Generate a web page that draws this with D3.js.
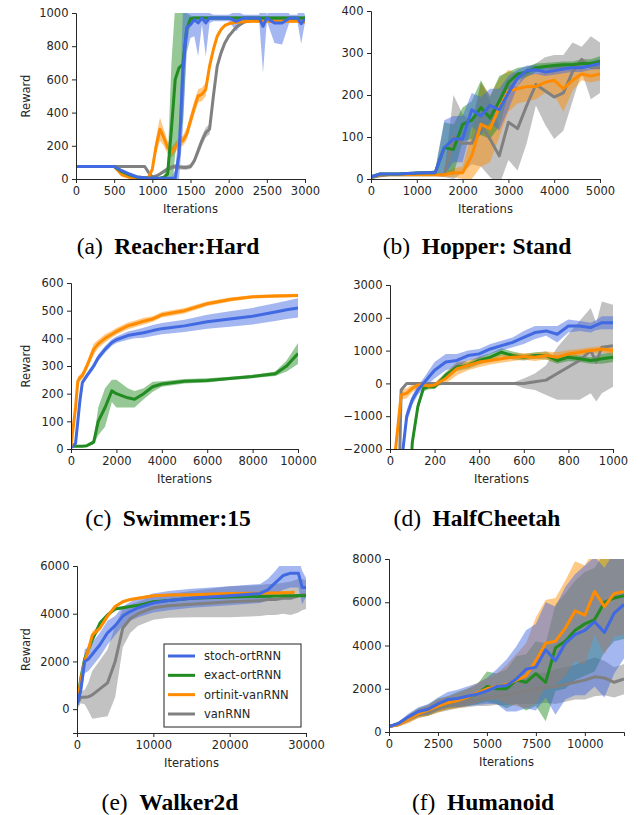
<!DOCTYPE html>
<html><head><meta charset="utf-8">
<script src="https://cdn.jsdelivr.net/npm/d3@7"></script>
<style>
body{margin:0;background:#fff}
text{font-family:"DejaVu Sans",sans-serif}
</style>
</head><body>
<svg id="c" width="640" height="815"></svg>
<script>
// ---------- DATA ----------
const seriesNames = ["stoch-ortRNN", "exact-ortRNN", "ortinit-vanRNN", "vanRNN"];

// (a) Reacher:Hard
const reacherX = [0,100,200,300,400,500,600,700,800,900, 950,1000,1050,1100,1150,1200,1250,1300,1350,1400, 1450,1500,1550,1600,1650,1700,1750,1800,1850,1900, 1950,2000,2100,2200,2300,2400,2450,2500,2600,2700, 2800,2900,2950,3000];
const reacherStoch = [75,75,75,75,75,75,50,30,12,8, 5,5,5,5,5,5,5,5,150,650, 910,930,960,940,970,940,970,970,970,970, 970,970,950,970,970,970,920,970,940,940, 970,970,935,965];
const reacherStochSd = [5,5,5,5,5,5,8,8,5,5, 5,5,5,5,5,5,5,50,150,350, 150,80,100,200,40,200,30,20,20,20, 20,20,60,20,20,20,280,20,120,130, 20,20,120,20];
const reacherExact = [75,75,75,75,75,75,45,25,12,8, 5,5,5,5,10,30,300,600,670,690, 900,965,970,970,970,970,970,970,970,970, 970,970,970,970,970,970,970,970,970,970, 970,970,970,970];
const reacherExactSd = [3,3,3,3,3,3,5,5,5,5, 5,5,5,5,10,50,400,450,400,350, 100,20,10,10,10,10,10,10,10,10, 10,10,10,10,10,10,10,10,10,10, 10,10,10,10];
const reacherOrtinit = [75,75,75,75,75,75,25,10,5,5, 10,60,200,300,250,190,160,190,220,230, 270,350,430,500,510,540,680,780,860,900, 925,935,945,948,950,950,950,950,950,950, 950,950,948,945];
const reacherOrtinitSd = [3,3,3,3,3,5,8,5,5,5, 8,20,50,70,50,40,30,30,30,30, 35,40,40,40,40,40,30,20,15,12, 10,8,8,8,8,8,8,8,8,8, 8,8,8,8];
const reacherVan = [75,75,75,75,75,75,75,75,75,75, 40,12,18,30,45,60,70,75,72,70, 70,75,110,170,230,280,300,500,680,760, 820,860,915,945,955,960,960,962,962,962, 962,962,962,962];
const reacherVanSd = [3,3,3,3,3,3,3,3,3,3, 5,5,8,10,12,15,15,15,15,15, 15,15,20,30,30,30,30,30,25,20, 15,12,10,8,5,5,5,5,5,5, 5,5,5,5];

// (b) Hopper: Stand
const hopperX = [0,200,400,600,800,1000,1200,1400,1600,1800,2000,2200,2400,2600,2800,3000,3200,3400,3600,3800,4000,4200,4400,4600,4800,5000];
const hopperStoch = [5,12,12,12,13,14,15,15,75,95,95,165,150,175,165,205,240,258,260,255,258,262,265,265,270,275];
const hopperStochSd = [3,3,3,3,3,3,3,5,65,55,55,40,45,40,50,40,20,12,10,10,10,10,10,10,10,10];
const hopperExact = [5,12,12,12,13,14,15,15,75,70,130,140,170,145,185,230,250,255,265,268,270,272,272,275,275,280];
const hopperExactSd = [3,3,3,3,3,3,3,5,60,60,40,45,65,50,60,25,15,12,10,8,8,8,8,10,10,12];
const hopperOrtinit = [5,10,10,10,10,10,10,10,10,15,15,55,130,120,170,210,215,220,220,230,235,215,235,250,245,250];
const hopperOrtinitSd = [2,2,2,2,2,2,2,2,5,10,15,55,100,80,70,50,35,35,30,25,35,55,25,15,15,15];
const hopperVan = [3,8,10,10,10,10,10,10,10,100,85,85,130,95,55,135,120,175,225,210,195,205,255,285,265,265];
const hopperVanSd = [2,3,3,3,3,3,3,3,5,100,70,50,100,90,70,90,100,90,50,80,100,90,70,30,75,60];

// (c) Swimmer:15
const swimmerX = [0,200,300,400,500,700,1000,1200,1500,1800,2000,2500,2800,3200,3600,4000,5000,6000,7000,8000,9000,9500,10000];
const swimmerStoch = [5,20,100,180,240,265,300,330,360,385,395,410,415,420,428,435,445,460,470,480,495,503,510];
const swimmerStochSd = [3,5,10,10,8,10,12,12,12,12,12,15,15,18,20,20,22,25,28,30,32,33,35];
const swimmerExact = [10,10,10,10,10,12,25,100,150,210,200,185,180,200,225,235,245,248,255,262,272,300,345];
const swimmerExactSd = [3,3,3,3,3,3,8,50,70,40,50,35,30,20,18,10,8,8,6,6,8,20,38];
const swimmerOrtinit = [10,150,245,258,265,300,360,380,400,415,425,445,452,462,470,485,500,525,540,550,553,554,555];
const swimmerOrtinitSd = [5,15,15,12,12,15,20,15,15,12,12,12,12,12,10,10,10,8,8,6,6,6,6];

// (d) HalfCheetah
const cheetahX = [0,25,50,75,100,125,150,175,200,250,300,350,400,450,500,550,600,650,700,750,800,850,900,925,950,1000];
const cheetahStoch = [-10000,-6000,-2500,-1000,-500,-200,0,200,400,650,700,850,900,1050,1150,1250,1400,1550,1600,1500,1750,1750,1700,1780,1850,1850];
const cheetahStochSd = [500,500,300,200,150,150,150,200,250,250,200,150,150,150,150,150,200,200,150,250,200,150,150,150,200,200];
const cheetahExact = [-12000,-10000,-8000,-5000,-1800,-700,-150,-100,-100,250,500,550,700,800,950,850,800,850,850,700,800,750,700,720,750,800];
const cheetahExactSd = [300,300,300,300,200,150,100,80,80,100,120,100,120,120,120,120,100,100,120,100,120,100,100,120,150,150];
const cheetahOrtinit = [-8000,-2000,-350,-300,-150,-50,-50,-80,-50,150,450,550,650,700,750,800,820,800,850,800,900,950,1000,1020,1050,1000];
const cheetahOrtinitSd = [500,300,150,150,120,100,80,80,80,150,200,150,150,120,120,120,100,120,120,150,120,100,100,100,100,100];
const cheetahVan = [-15000,-8000,-200,0,0,0,0,0,0,0,0,0,0,0,0,0,0,50,100,300,500,700,1000,650,1100,1150];
const cheetahVanSd = [20,20,20,20,20,20,20,20,20,20,20,20,20,20,20,20,150,250,450,800,1000,1200,1300,1200,1400,1250];

// (e) Walker2d
const walkerX = [0,500,1000,1500,2000,3000,4000,5000,6000,7000,8000,10000,12000,15000,20000,24000,25000,26000,27000,28000,28500,29000,29500,30000];
const walkerStoch = [200,800,2000,2100,2300,2700,3200,3500,3900,4100,4250,4450,4550,4650,4750,4850,5000,5300,5600,5700,5700,5700,5100,5100];
const walkerStochSd = [200,300,500,500,500,500,500,400,400,400,400,400,400,400,400,400,450,500,600,600,600,600,700,400];
const walkerExact = [200,1300,2100,2500,2900,3600,3950,4200,4250,4300,4350,4500,4550,4650,4700,4720,4730,4740,4750,4750,4750,4760,4750,4750];
const walkerExactSd = [100,150,150,150,120,100,80,60,60,50,50,50,50,50,50,50,50,50,50,50,50,50,50,50];
const walkerOrtinit = [200,1200,2000,2500,3100,3400,3900,4300,4500,4600,4650,4750,4780,4800,4850,4860,4870,4870,4880,4890,4900,null,null,null];
const walkerOrtinitSd = [100,200,200,150,150,120,100,80,60,60,60,60,60,60,60,60,60,60,60,60,60,null,null,null];
const walkerVan = [200,500,500,520,600,850,1100,2000,3400,3800,4000,4250,4330,4400,4500,4550,4600,4600,4650,4650,4700,4750,4800,4800];
const walkerVanSd = [200,250,300,600,1000,1200,1400,1500,800,600,500,500,500,550,650,650,650,650,650,700,700,700,650,600];

// (f) Humanoid
const humanoidX = [0,500,1000,1500,2000,2500,3000,3500,4000,4500,5000,5500,6000,6500,7000,7500,8000,8500,9000,9500,10000,10500,11000,11500,12000];
const humanoidStoch = [250,400,700,950,1050,1300,1500,1550,1650,1750,1900,2100,2150,2450,2900,3000,3800,3300,4100,4500,4700,5100,4600,5500,5900];
const humanoidStochSd = [50,80,150,200,250,300,350,400,450,500,600,800,1200,1500,1800,2000,2200,2500,2600,2800,3000,3000,3000,2800,2500];
const humanoidExact = [250,380,650,900,1000,1250,1350,1500,1600,1750,2100,2000,2000,2400,2300,2700,2300,3900,4200,4700,5000,5200,6000,6200,6300];
const humanoidExactSd = [50,100,150,200,250,300,300,350,400,450,700,700,900,1100,1300,1500,1800,2000,2200,2300,2400,2400,2300,2000,2000];
const humanoidOrtinit = [250,350,600,850,1000,1200,1350,1450,1600,1800,2000,2100,2200,2400,2600,3300,4100,4200,4800,5600,5400,6500,5800,6400,6500];
const humanoidOrtinitSd = [50,100,200,200,250,300,300,350,400,450,500,600,900,1200,1500,2000,2000,2000,2200,2300,2300,2000,2200,2000,2000];
const humanoidVan = [250,350,600,800,950,1100,1200,1300,1400,1500,1550,1650,1700,1800,1900,2000,2050,2100,2200,2300,2400,2550,2500,2300,2450];
const humanoidVanSd = [50,80,150,150,200,200,200,200,250,300,350,400,450,500,600,700,700,800,800,800,900,900,800,700,700];

// tick values
const reacherXTicks = [0,500,1000,1500,2000,2500,3000];
const reacherYTicks = [0,200,400,600,800,1000];
const hopperXTicks = [0,1000,2000,3000,4000,5000];
const hopperYTicks = [0,100,200,300,400];
const swimmerXTicks = [0,2000,4000,6000,8000,10000];
const swimmerYTicks = [0,100,200,300,400,500,600];
const cheetahXTicks = [0,200,400,600,800,1000];
const cheetahYTicks = [-2000,-1000,0,1000,2000,3000];
const walkerXTicks = [0,10000,20000,30000];
const walkerYTicks = [0,2000,4000,6000];
const humanoidXTicks = [0,2500,5000,7500,10000];
const humanoidYTicks = [0,2000,4000,6000,8000];

// ---------- STYLE / LAYOUT ----------
const colors = ["#4169e1", "#228b22", "#ff8c00", "#808080"];
const axisColor = "#262626";
const fontSize = 11.5;

const panels = [
  {id:"a", left:76, right:305, top:13, bottom:179, xd:[0,3000], yd:[0,1000], xt:reacherXTicks, yt:reacherYTicks, x:reacherX,
   series:[{k:3,m:reacherVan,sd:reacherVanSd},{k:2,m:reacherOrtinit,sd:reacherOrtinitSd},{k:1,m:reacherExact,sd:reacherExactSd},{k:0,m:reacherStoch,sd:reacherStochSd}],
   ylabel:true, cap:["(a)","Reacher:Hard"], capX:168, capY:254},
  {id:"b", left:371, right:600, top:11, bottom:179, xd:[0,5000], yd:[0,400], xt:hopperXTicks, yt:hopperYTicks, x:hopperX,
   series:[{k:3,m:hopperVan,sd:hopperVanSd},{k:2,m:hopperOrtinit,sd:hopperOrtinitSd},{k:1,m:hopperExact,sd:hopperExactSd},{k:0,m:hopperStoch,sd:hopperStochSd}],
   ylabel:false, cap:["(b)","Hopper: Stand"], capX:477, capY:254},
  {id:"c", left:71, right:298, top:283, bottom:449, xd:[0,10000], yd:[0,600], xt:swimmerXTicks, yt:swimmerYTicks, x:swimmerX,
   series:[{k:1,m:swimmerExact,sd:swimmerExactSd},{k:0,m:swimmerStoch,sd:swimmerStochSd},{k:2,m:swimmerOrtinit,sd:swimmerOrtinitSd}],
   ylabel:true, cap:["(c)","Swimmer:15"], capX:168, capY:526},
  {id:"d", left:390, right:613, top:285, bottom:449, xd:[0,1000], yd:[-2000,3000], xt:cheetahXTicks, yt:cheetahYTicks, x:cheetahX,
   series:[{k:3,m:cheetahVan,sd:cheetahVanSd},{k:1,m:cheetahExact,sd:cheetahExactSd},{k:2,m:cheetahOrtinit,sd:cheetahOrtinitSd},{k:0,m:cheetahStoch,sd:cheetahStochSd}],
   ylabel:false, cap:["(d)","HalfCheetah"], capX:477, capY:526},
  {id:"e", left:77, right:306, top:566, bottom:733, xd:[0,30000], yd:[-1000,6000], xt:walkerXTicks, yt:walkerYTicks, x:walkerX,
   series:[{k:3,m:walkerVan,sd:walkerVanSd},{k:1,m:walkerExact,sd:walkerExactSd},{k:2,m:walkerOrtinit,sd:walkerOrtinitSd},{k:0,m:walkerStoch,sd:walkerStochSd}],
   ylabel:true, legend:true, cap:["(e)","Walker2d"], capX:170, capY:810},
  {id:"f", left:389, right:624, top:559, bottom:732, xd:[0,12000], yd:[0,8000], xt:humanoidXTicks, yt:humanoidYTicks, x:humanoidX,
   series:[{k:3,m:humanoidVan,sd:humanoidVanSd},{k:1,m:humanoidExact,sd:humanoidExactSd},{k:2,m:humanoidOrtinit,sd:humanoidOrtinitSd},{k:0,m:humanoidStoch,sd:humanoidStochSd}],
   ylabel:false, cap:["(f)","Humanoid"], capX:483, capY:810}
];

const svg = d3.select("#c");
const defs = svg.append("defs");

function drawPanel(p) {
  const g = svg.append("g");
  const x = d3.scaleLinear().domain(p.xd).range([p.left, p.right]);
  const y = d3.scaleLinear().domain(p.yd).range([p.bottom, p.top]);
  const clipId = "clip-" + p.id;
  defs.append("clipPath").attr("id", clipId).append("rect")
    .attr("x", p.left).attr("y", p.top).attr("width", p.right - p.left).attr("height", p.bottom - p.top);
  const plot = g.append("g").attr("clip-path", `url(#${clipId})`);
  const pts = s => p.x.map((xv, i) => ({x: xv, m: s.m[i], sd: s.sd[i]}));
  const area = d3.area().defined(d => d.m != null)
    .x(d => x(d.x)).y0(d => y(d.m - d.sd)).y1(d => y(d.m + d.sd));
  const line = d3.line().defined(d => d.m != null).x(d => x(d.x)).y(d => y(d.m));
  p.series.forEach(s => plot.append("path").attr("d", area(pts(s)))
    .attr("fill", colors[s.k]).attr("fill-opacity", 0.48).attr("stroke", "none"));
  p.series.forEach(s => plot.append("path").attr("d", line(pts(s)))
    .attr("fill", "none").attr("stroke", colors[s.k]).attr("stroke-width", 3)
    .attr("stroke-linejoin", "round"));

  const fmt = d3.format("d");
  const ax = g.append("g").attr("transform", `translate(0,${p.bottom})`)
    .call(d3.axisBottom(x).tickValues(p.xt).tickFormat(fmt).tickSizeOuter(0).tickSize(4).tickPadding(3.5));
  const ay = g.append("g").attr("transform", `translate(${p.left},0)`)
    .call(d3.axisLeft(y).tickValues(p.yt).tickFormat(fmt).tickSizeOuter(0).tickSize(4).tickPadding(3.5));
  [ax, ay].forEach(a => {
    a.select(".domain").attr("stroke", axisColor).attr("stroke-width", 1);
    a.selectAll(".tick line").attr("stroke", axisColor);
    a.selectAll("text").attr("fill", axisColor).style("font-size", fontSize + "px")
      .style("font-family", "DejaVu Sans");
  });

  g.append("text").attr("x", (p.left + p.right) / 2).attr("y", p.bottom + 34)
    .attr("text-anchor", "middle").attr("fill", axisColor).style("font-size", fontSize + "px")
    .text("Iterations");
  if (p.ylabel) {
    g.append("text").attr("transform", `translate(26,${(p.top + p.bottom) / 2}) rotate(-90)`)
      .attr("text-anchor", "middle").attr("dy", "0.35em").attr("fill", axisColor)
      .style("font-size", fontSize + "px").text("Reward");
  }

  const cap = svg.append("text").attr("x", p.capX).attr("y", p.capY).attr("text-anchor", "middle")
    .style("font-family", "'Liberation Serif','Times New Roman',serif").style("font-size", "23.5px").attr("fill", "#000");
  cap.append("tspan").text(p.cap[0]);
  cap.append("tspan").attr("dx", 11.5).attr("font-weight", "bold").text(p.cap[1]);

  if (p.legend) {
    const lg = g.append("g");
    lg.append("rect").attr("x", 164).attr("y", 644).attr("width", 137).attr("height", 83)
      .attr("fill", "#fff").attr("stroke", "#222").attr("stroke-width", 1);
    const rowY = d3.scalePoint().domain(seriesNames).range([656, 714]);
    seriesNames.forEach((n, i) => {
      lg.append("line").attr("x1", 168).attr("x2", 195).attr("y1", rowY(n)).attr("y2", rowY(n))
        .attr("stroke", colors[i]).attr("stroke-width", 3);
      lg.append("text").attr("x", 204).attr("y", rowY(n)).attr("dy", "0.35em")
        .attr("fill", axisColor).style("font-size", fontSize + "px").text(n);
    });
  }
}

panels.forEach(drawPanel);
</script>
</body></html>
